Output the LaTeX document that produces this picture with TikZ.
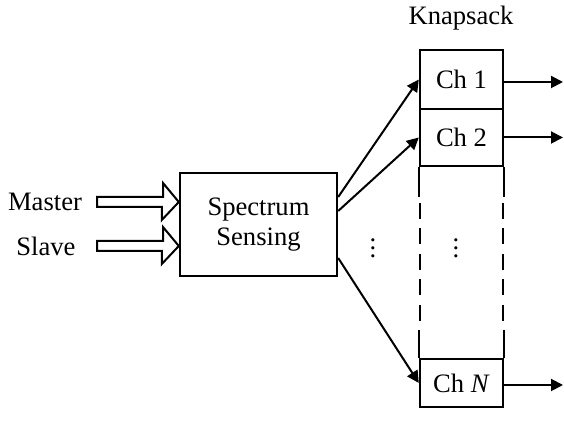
\documentclass[tikz,border=0pt]{standalone}
\usepackage{fontspec}
\setmainfont{Liberation Serif}
\usetikzlibrary{positioning,arrows.meta,calc}

\begin{document}
\begin{tikzpicture}[x=0.5pt, y=-0.5pt,
  lbl/.style={font=\fontsize{13.3}{15}\selectfont, inner sep=1pt},
  block/.style={draw, line width=1.2pt, font=\fontsize{13.3}{15}\selectfont, align=center, minimum width=78.5pt, minimum height=51.5pt},
  chbox/.style={draw, line width=1.2pt, font=\fontsize{13.3}{15}\selectfont, minimum width=41.5pt, inner sep=0pt},
  sideline/.style={draw, line width=1.2pt},
  dashline/.style={draw, line width=1.2pt, dash pattern=on 8pt off 4.75pt},
  arr/.style={draw, line width=1pt, -{Triangle[length=6pt,width=6pt]}},
  hollow/.style={draw, line width=1pt, fill=white, line join=miter}
]
\useasboundingbox (0,0) rectangle (564,421);

% inputs and sensing block
\node[lbl] (mst) at (45,202) {Master};
\node[lbl] (slv) at (46,246) {Slave};
\node[block] (ss) at (258.5,224.5) {Spectrum\\Sensing};
\coordinate (mtail) at (97,202);
\coordinate (stail) at (97,246);
\draw[hollow] ($(mtail)+(0,-5)$) -- ++(66,0) -- ++(0,-14) -- (ss.west |- mtail) -- ++(-17,18) -- ++(0,-13) -- ($(mtail)+(0,5)$) -- cycle;
\draw[hollow] ($(stail)+(0,-5)$) -- ++(66,0) -- ++(0,-14) -- (ss.west |- stail) -- ++(-17,18) -- ++(0,-13) -- ($(stail)+(0,5)$) -- cycle;

% knapsack channels
\node[lbl] (ks) at (461,18) {Knapsack};
\node[chbox, minimum height=29.5pt] (ch1) at (461.5,79.5) {Ch 1};
\node[chbox, minimum height=28.5pt] (ch2) at (461.5,137.5) {Ch 2};
\node[chbox, minimum height=24pt] (chN) at (461.5,383) {Ch \textit{N}};
\draw[sideline] (ch2.south west) -- ++(0,30);
\draw[sideline] (ch2.south east) -- ++(0,30);
\draw[dashline] (420,203) -- (420,322);
\draw[dashline] (503,203) -- (503,322);
\draw[sideline] (chN.north west) -- ++(0,-28);
\draw[sideline] (chN.north east) -- ++(0,-28);
\node[lbl] (vd1) at (373,242) {$\vdots$};
\node[lbl] (vd2) at (456,242) {$\vdots$};

% arrows
\draw[arr] ($(ss.east)+(0,-27.5)$) -- (ch1.west);
\draw[arr] ($(ss.east)+(0,-13.5)$) -- (ch2.west);
\draw[arr] ($(ss.east)+(0,33.5)$) -- (chN.west);
\coordinate (o1) at (563,82);
\coordinate (o2) at (563,137.5);
\coordinate (oN) at (563,385);
\draw[arr] (ch1.east |- o1) -- (o1);
\draw[arr] (ch2.east) -- (o2);
\draw[arr] (chN.east |- oN) -- (oN);

\end{tikzpicture}
\end{document}
